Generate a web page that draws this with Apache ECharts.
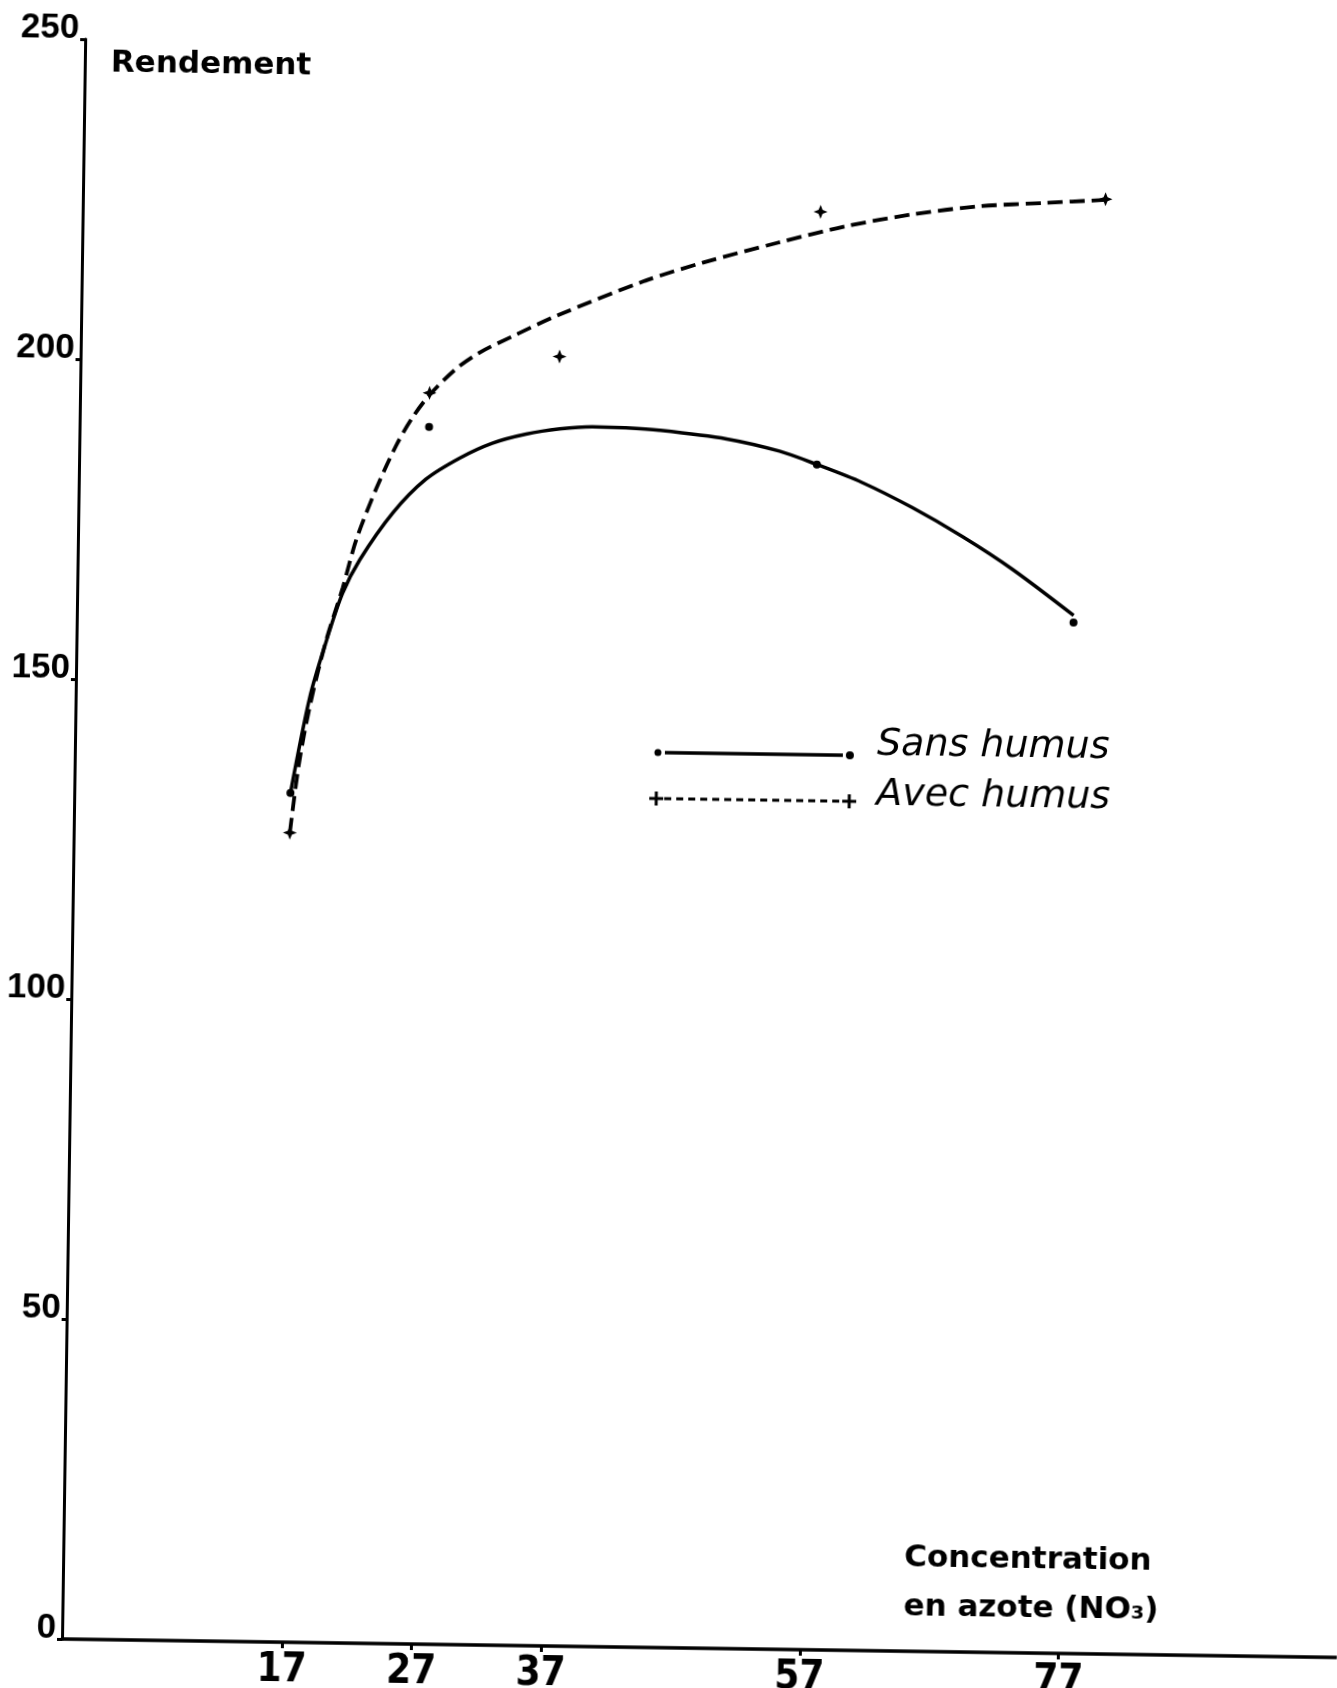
<!DOCTYPE html>
<html>
<head>
<meta charset="utf-8">
<script src="https://cdn.jsdelivr.net/npm/echarts@6/dist/echarts.min.js"></script>
<style>
html,body{margin:0;padding:0;background:#fff;overflow:hidden;width:1337px;height:1688px;}
#chart{position:absolute;left:-30px;top:0;width:1367px;height:1688px;transform:rotate(0.83deg);transform-origin:92px 1639px;}
</style>
</head>
<body>
<div id="chart"></div>
<script>
// ---- data ----
const xTickValues = [17, 27, 37, 57, 77];
const yTickInterval = 50;

// measured points
const sansX = [16.7, 27, 57, 77];
const sansY = [132.7, 190.2, 185.2, 161.1];
const avecX = [16.7, 27, 37, 57, 79];
const avecY = [126.5, 195.5, 201.5, 224.7, 227.3];

// fitted (hand drawn) curves, sampled along the drawn lines
const sansCurveX = [16.7, 18.1, 19.3, 20.5, 21.8, 24.3, 26.8, 29.4, 31.9, 34.5, 37.1, 39.6, 42.2, 44.8, 50, 54.1, 57, 60.5, 64.4, 68.3, 72.2, 77];
const sansCurveY = [132.7, 147.8, 156.5, 164.0, 169.3, 176.7, 182.0, 185.4, 187.8, 189.3, 190.2, 190.6, 190.5, 190.2, 189.0, 187.2, 185.2, 182.5, 178.7, 174.3, 169.3, 162.2];
const avecCurveX = [16.7, 17.3, 18.1, 19.3, 20.5, 21.5, 23.0, 24.5, 25.7, 27.0, 29.0, 30.8, 33.3, 36.9, 43.5, 48, 53.8, 59, 64.1, 69.2, 74.4, 79];
const avecCurveY = [126.5, 136.9, 146.3, 156.7, 164.8, 172.4, 180.5, 187.3, 191.6, 195.2, 199.3, 201.9, 204.5, 208.0, 213.5, 216.5, 219.8, 222.5, 224.5, 225.9, 226.6, 227.2];

const legendNames = ['Sans humus', 'Avec humus'];
const yAxisTitle = 'Rendement';
const xAxisTitle = ['Concentration', 'en azote (NO\u2083)'];

const zip = (xs, ys) => xs.map((x, i) => [x, ys[i]]);
const starPath = 'path://M0,-7 L2,-2 L7,0 L2,2 L0,7 L-2,2 L-7,0 L-2,-2 Z';
const OX = 30; // extra canvas margin on the left (page is shifted by -30px)

const chart = echarts.init(document.getElementById('chart'), null, {renderer: 'canvas'});
chart.setOption({
  animation: false,
  backgroundColor: '#ffffff',
  grid: {left: 62 + OX, right: 0, top: 39, bottom: 49, containLabel: false, outerBoundsMode: 'none'},
  xAxis: {
    type: 'value', min: 0, max: 98.5,
    axisLine: {lineStyle: {color: '#000', width: 3.5}},
    axisTick: {show: true, customValues: xTickValues, length: 6, lineStyle: {color: '#000', width: 3}},
    axisLabel: {customValues: xTickValues, margin: 9, color: '#000', fontSize: 40, fontWeight: 'bold',
      fontFamily: "'Liberation Sans Narrow', 'DejaVu Sans Condensed', sans-serif"},
    splitLine: {show: false}
  },
  yAxis: {
    type: 'value', min: 0, max: 250, interval: yTickInterval,
    axisLine: {show: true, lineStyle: {color: '#000', width: 3}},
    axisTick: {show: true, length: 5, lineStyle: {color: '#000', width: 3}},
    axisLabel: {margin: 6, color: '#000', fontSize: 35, fontWeight: 'bold', fontFamily: "'Liberation Sans', Arial, sans-serif",
      verticalAlign: 'bottom', lineHeight: 21},
    splitLine: {show: false}
  },
  series: [
    {name: legendNames[0] + ' courbe', type: 'line', data: zip(sansCurveX, sansCurveY), smooth: 0.3,
      showSymbol: false, symbol: 'none', lineStyle: {color: '#000', width: 3.5}, z: 2},
    {name: legendNames[1] + ' courbe', type: 'line', data: zip(avecCurveX, avecCurveY), smooth: 0.3,
      showSymbol: false, symbol: 'none', lineStyle: {color: '#000', width: 3.8, type: [15, 7]}, z: 2},
    {name: legendNames[0], type: 'scatter', data: zip(sansX, sansY), symbol: 'circle', symbolSize: 8,
      itemStyle: {color: '#000', opacity: 1}, z: 3},
    {name: legendNames[1], type: 'scatter', data: zip(avecX, avecY), symbol: starPath, symbolSize: 14,
      itemStyle: {color: '#000', opacity: 1}, z: 3}
  ],
  graphic: [
    {type: 'text', left: 88 + OX, top: 47, style: {text: yAxisTitle, fill: '#000', font: "bold 31px 'DejaVu Sans'"}},
    {type: 'text', left: 903 + OX, top: 1530, style: {text: xAxisTitle[0], fill: '#000', font: "bold 31px 'DejaVu Sans'"}},
    {type: 'text', left: 903 + OX, top: 1579, style: {text: xAxisTitle[1], fill: '#000', font: "bold 31px 'DejaVu Sans'"}},
    // legend: solid
    {type: 'line', shape: {x1: 652 + OX, y1: 744, x2: 830 + OX, y2: 744}, style: {stroke: '#000', lineWidth: 3.5}},
    {type: 'circle', shape: {cx: 645 + OX, cy: 744, r: 3.5}, style: {fill: '#000'}},
    {type: 'circle', shape: {cx: 837 + OX, cy: 744, r: 4}, style: {fill: '#000'}},
    {type: 'text', left: 864 + OX, top: 714, style: {text: legendNames[0], fill: '#000', font: "italic 38px 'DejaVu Sans'"}},
    // legend: dashed
    {type: 'line', shape: {x1: 652 + OX, y1: 790, x2: 830 + OX, y2: 790}, style: {stroke: '#000', lineWidth: 3, lineDash: [7, 5]}},
    {type: 'line', shape: {x1: 637 + OX, y1: 790, x2: 651 + OX, y2: 790}, style: {stroke: '#000', lineWidth: 3}},
    {type: 'line', shape: {x1: 644 + OX, y1: 783, x2: 644 + OX, y2: 797}, style: {stroke: '#000', lineWidth: 3}},
    {type: 'line', shape: {x1: 830 + OX, y1: 790, x2: 844 + OX, y2: 790}, style: {stroke: '#000', lineWidth: 3}},
    {type: 'line', shape: {x1: 837 + OX, y1: 783, x2: 837 + OX, y2: 797}, style: {stroke: '#000', lineWidth: 3}},
    {type: 'text', left: 864 + OX, top: 764, style: {text: legendNames[1], fill: '#000', font: "italic 38px 'DejaVu Sans'"}}
  ]
});
</script>
</body>
</html>
